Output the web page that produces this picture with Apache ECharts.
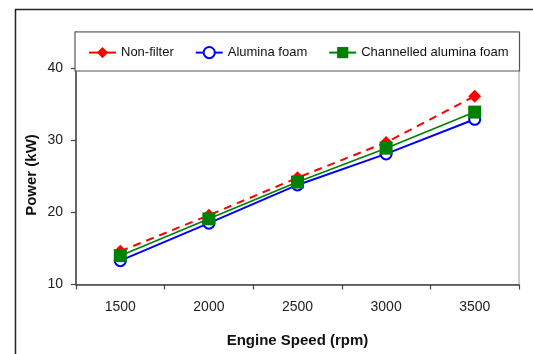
<!DOCTYPE html>
<html>
<head>
<meta charset="utf-8">
<script src="https://cdn.jsdelivr.net/npm/echarts@6/dist/echarts.min.js"></script>
<style>
  html, body { margin: 0; padding: 0; background: #fff; }
  #chart { width: 533px; height: 354px; }
</style>
</head>
<body>
<div id="chart"></div>
<script>
  // engine speed categories (rpm)
  const speeds = ["1500", "2000", "2500", "3000", "3500"];
  // power readings (kW)
  const nonFilter = [14.6, 19.6, 24.8, 29.7, 36.1];
  const aluminaFoam = [13.3, 18.5, 23.8, 28.1, 32.9];
  const channelledFoam = [14.0, 19.1, 24.2, 28.9, 33.9];
  const yTicks = [10, 20, 30, 40];

  const font = "Liberation Sans, Arial, sans-serif";
  const axisColor = "#444";

  const chart = echarts.init(document.getElementById("chart"), null, { renderer: "canvas" });

  chart.setOption({
    animation: false,
    backgroundColor: "#fff",
    textStyle: { fontFamily: font },
    grid: {
      left: 76, right: 14, top: 32, bottom: 69.5,
      outerBoundsMode: "none",
      containLabel: false,
      show: true, borderColor: "#999", borderWidth: 1, backgroundColor: "transparent",
    },
    graphic: [
      // outer chart frame
      {
        type: "rect", z: 1, silent: true,
        shape: { x: 15.5, y: 9.5, width: 600, height: 400 },
        style: { fill: "none", stroke: "#222", lineWidth: 1.5 },
      },
      // legend box
      {
        type: "rect", z: 3, silent: true,
        shape: { x: 75, y: 32, width: 444.5, height: 39 },
        style: { fill: "#fff", stroke: "#555", lineWidth: 1.2 },
      },
      {
        type: "text", z: 3, silent: true,
        x: 31.5, y: 175, rotation: Math.PI / 2,
        style: {
          text: "Power (kW)", font: "bold 15px " + font, fill: "#111",
          align: "center", verticalAlign: "middle",
        },
      },
    ],
    legend: {
      z: 10,
      left: 88, top: 46,
      padding: 0,
      itemWidth: 27, itemHeight: 14, itemGap: 21,
      textStyle: { fontSize: 13, color: "#111", fontFamily: font },
      lineStyle: { type: "solid" },
      data: ["Non-filter", "Alumina foam", "Channelled alumina foam"],
    },
    xAxis: {
      type: "category",
      data: speeds,
      boundaryGap: true,
      name: "Engine Speed (rpm)",
      nameLocation: "middle",
      nameGap: 49,
      nameTextStyle: { fontSize: 15, fontWeight: "bold", color: "#111", fontFamily: font },
      axisLine: { lineStyle: { color: axisColor, width: 1.5 } },
      axisTick: { show: true, inside: false, length: 5, lineStyle: { color: axisColor, width: 1.2 } },
      axisLabel: { fontSize: 14, color: "#222", margin: 16, fontFamily: font },
      splitLine: { show: false },
    },
    yAxis: {
      type: "value",
      min: 10,
      max: 45,
      axisLine: { show: true, lineStyle: { color: axisColor, width: 1.5 } },
      axisTick: { show: true, inside: false, length: 5, customValues: yTicks, lineStyle: { color: axisColor, width: 1.2 } },
      axisLabel: { fontSize: 14, color: "#222", margin: 13, customValues: yTicks, fontFamily: font },
      splitLine: { show: false },
    },
    series: [
      {
        name: "Non-filter",
        type: "line",
        data: nonFilter,
        symbol: "diamond",
        symbolSize: 13,
        itemStyle: { color: "#ff0000" },
        lineStyle: { color: "#ff0000", width: 2, type: [8, 6] },
      },
      {
        name: "Alumina foam",
        type: "line",
        data: aluminaFoam,
        symbol: "emptyCircle",
        symbolSize: 11,
        itemStyle: { color: "#0000ff", borderWidth: 1.2 },
        lineStyle: { color: "#0000ff", width: 2 },
      },
      {
        name: "Channelled alumina foam",
        type: "line",
        data: channelledFoam,
        symbol: "rect",
        symbolSize: 13,
        itemStyle: { color: "#008000" },
        lineStyle: { color: "#008000", width: 1.6 },
      },
    ],
  });
</script>
</body>
</html>
